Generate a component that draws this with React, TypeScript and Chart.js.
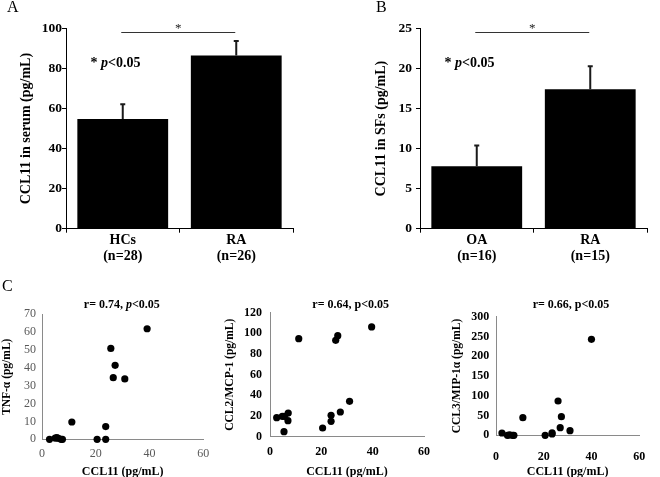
import React, { useEffect, useRef } from "react";
import { Chart, registerables } from "chart.js";

Chart.register(...registerables);

const SERIF = "'Liberation Serif', 'Times New Roman', Times, serif";

// ---------- Panel A: CCL11 in serum ----------
const groupsA = [["HCs", "(n=28)"], ["RA", "(n=26)"]];
const meansA = [54.8, 86.5];
const semA = [7.4, 7.3];
const yMaxA = 100;
const yStepA = 20;

// ---------- Panel B: CCL11 in synovial fluid ----------
const groupsB = [["OA", "(n=16)"], ["RA", "(n=15)"]];
const meansB = [7.8, 17.4];
const semB = [2.6, 2.9];
const yMaxB = 25;
const yStepB = 5;

// ---------- Panel C: correlations with CCL11 ----------
const tnfX = [2.8, 4.9, 5.5, 6.1, 7.1, 7.6, 11.1, 20.5, 23.7, 23.7, 25.6, 26.5, 27.2, 30.8, 39.1];
const tnfY = [0, 0.7, 1.0, 0.5, 0, 0, 9.7, 0, 7.1, 0, 50.9, 34.5, 41.4, 33.8, 61.9];

const mcpX = [2.6, 4.8, 5.6, 5.45, 7.1, 7.0, 11.2, 20.5, 23.8, 23.8, 25.6, 26.4, 27.4, 31.0, 39.6];
const mcpY = [18.4, 19.7, 19.7, 4.9, 22.9, 15.5, 94.9, 8.4, 20.7, 14.9, 93.3, 97.8, 23.9, 34.2, 106.2];

const mipX = [2.5, 4.8, 5.7, 7.0, 7.5, 11.25, 20.6, 23.5, 23.5, 26.0, 26.9, 27.4, 31.0, 40.0];
const mipY = [5.8, 0, 1, 0, 0, 44.6, 0, 3.3, 6.0, 86.8, 19.3, 47.1, 11.7, 242.8];

const xMaxC = 60;
const xStepC = 20;

type Seg = { t: string; i?: boolean };

function drawRich(ctx: CanvasRenderingContext2D, segs: Seg[], x: number, y: number, size: number, align: "left" | "center") {
  const fonts = segs.map((s) => `${s.i ? "italic " : ""}bold ${size}px ${SERIF}`);
  const ws = segs.map((s, k) => {
    ctx.font = fonts[k];
    return ctx.measureText(s.t).width;
  });
  const total = ws.reduce((a, b) => a + b, 0);
  let cx = align === "center" ? x - total / 2 : x;
  ctx.save();
  ctx.textAlign = "left";
  ctx.textBaseline = "alphabetic";
  ctx.fillStyle = "#000";
  segs.forEach((s, k) => {
    ctx.font = fonts[k];
    ctx.fillText(s.t, cx, y);
    cx += ws[k];
  });
  ctx.restore();
}

const errorBars = {
  id: "errorBars",
  afterDatasetsDraw(chart: any, _a: any, opts: any) {
    const { ctx } = chart;
    const y = chart.scales.y;
    const meta = chart.getDatasetMeta(0);
    const vals = chart.data.datasets[0].data as number[];
    ctx.save();
    ctx.strokeStyle = "#1a1a1a";
    ctx.lineWidth = 2;
    (opts.errors as number[]).forEach((e, i) => {
      const x = meta.data[i].x;
      const y0 = y.getPixelForValue(vals[i]);
      const y1 = y.getPixelForValue(vals[i] + e);
      ctx.beginPath();
      ctx.moveTo(x, y0);
      ctx.lineTo(x, y1);
      ctx.moveTo(x - 2.5, y1);
      ctx.lineTo(x + 2.5, y1);
      ctx.stroke();
    });
    ctx.restore();
  },
};

const sigBar = {
  id: "sigBar",
  afterDatasetsDraw(chart: any, _a: any, opts: any) {
    const { ctx, chartArea } = chart;
    const xs = chart.scales.x;
    const ys = chart.scales.y;
    const x0 = xs.getPixelForValue(0) - 1.5;
    const x1 = xs.getPixelForValue(1) - 1;
    const ly = Math.round(ys.getPixelForValue(opts.level)) + 0.5;
    ctx.save();
    ctx.strokeStyle = "#333";
    ctx.lineWidth = 1;
    ctx.beginPath();
    ctx.moveTo(x0, ly);
    ctx.lineTo(x1, ly);
    ctx.stroke();
    ctx.fillStyle = "#222";
    ctx.font = `13px ${SERIF}`;
    ctx.textAlign = "center";
    ctx.textBaseline = "alphabetic";
    ctx.fillText("*", (x0 + x1) / 2, ly - 0.5);
    ctx.restore();
    drawRich(ctx, opts.note, chartArea.left + 24.5, chartArea.top + 38.2, 14, "left");
  },
};

const rTitle = {
  id: "rTitle",
  afterDraw(chart: any, _a: any, opts: any) {
    const { ctx, chartArea } = chart;
    drawRich(ctx, opts.segs, (chartArea.left + chartArea.right) / 2 + opts.dx, opts.baseline, 12, "center");
  },
};

const noteSegs: Seg[] = [{ t: "* " }, { t: "p", i: true }, { t: "<0.05" }];

function barConfig(p: {
  labels: string[][];
  means: number[];
  errs: number[];
  max: number;
  step: number;
  yTitle: string;
  padRight: number;
  axisW: number;
  titlePad: number;
  tickPad: number;
  level: number;
}): any {
  const tickFont = { family: SERIF, size: 13.5, weight: "bold" as const };
  return {
    type: "bar",
    data: {
      labels: p.labels,
      datasets: [
        {
          data: p.means,
          backgroundColor: "#000",
          borderWidth: 0,
          barPercentage: 0.8,
          categoryPercentage: 1,
        },
      ],
    },
    options: {
      responsive: false,
      animation: false,
      devicePixelRatio: 1,
      events: [],
      layout: { padding: { left: 0, right: p.padRight, top: 28.5, bottom: 0 } },
      plugins: {
        legend: { display: false },
        tooltip: { enabled: false },
        errorBars: { errors: p.errs },
        sigBar: { level: p.level, note: noteSegs },
      },
      scales: {
        x: {
          grid: { display: true, drawOnChartArea: false, drawTicks: true, tickLength: 4, color: "#000", offset: true },
          border: { display: true, color: "#000", width: 1 },
          ticks: {
            color: "#000",
            font: { family: SERIF, size: 14, weight: "bold", lineHeight: 16 / 14 },
            padding: 0,
            maxRotation: 0,
            autoSkip: false,
          },
          afterFit: (s: any) => {
            s.height = 280 - 228.7;
          },
        },
        y: {
          min: 0,
          max: p.max,
          ticks: { stepSize: p.step, color: "#000", font: tickFont, padding: p.tickPad },
          grid: { display: true, drawOnChartArea: false, drawTicks: true, tickLength: 4, color: "#000" },
          border: { display: true, color: "#000", width: 1 },
          title: {
            display: true,
            text: p.yTitle,
            color: "#000",
            font: { family: SERIF, size: 14, weight: "bold" },
            padding: { top: p.titlePad, bottom: 0 },
          },
          afterFit: (s: any) => {
            s.width = p.axisW;
          },
        },
      },
    },
    plugins: [errorBars, sigBar],
  };
}

function scatterConfig(p: {
  xs: number[];
  ys: number[];
  yMax: number;
  yStep: number;
  yTitle: string;
  bold: boolean;
  padTop: number;
  padRight: number;
  yW: number;
  xH: number;
  yLabelPad: number;
  xLabelPad: number;
  yTitlePad: number;
  xTitlePad: number;
  segs: Seg[];
  dx: number;
}): any {
  const tickFont = { family: SERIF, size: 12, weight: p.bold ? ("bold" as const) : ("normal" as const) };
  const tickColor = p.bold ? "#000" : "#595959";
  const axisColor = "#8a8a8a";
  return {
    type: "scatter",
    data: {
      datasets: [
        {
          data: p.xs.map((x, i) => ({ x, y: p.ys[i] })),
          backgroundColor: "#000",
          borderColor: "#000",
          borderWidth: 0,
          pointRadius: 3.6,
          clip: false,
        },
      ],
    },
    options: {
      responsive: false,
      animation: false,
      devicePixelRatio: 1,
      events: [],
      layout: { padding: { left: 0, right: p.padRight, top: p.padTop, bottom: 0 } },
      plugins: {
        legend: { display: false },
        tooltip: { enabled: false },
        rTitle: { segs: p.segs, dx: p.dx, baseline: 27.5 },
      },
      scales: {
        x: {
          type: "linear",
          min: 0,
          max: xMaxC,
          ticks: { stepSize: xStepC, color: tickColor, font: tickFont, padding: p.xLabelPad },
          grid: { display: false, drawTicks: false },
          border: { display: true, color: axisColor, width: 1 },
          title: {
            display: true,
            text: "CCL11 (pg/mL)",
            color: "#000",
            font: { family: SERIF, size: 12, weight: "bold" },
            padding: { top: 0, bottom: p.xTitlePad },
          },
          afterFit: (s: any) => {
            s.height = p.xH;
          },
        },
        y: {
          type: "linear",
          min: 0,
          max: p.yMax,
          ticks: { stepSize: p.yStep, color: tickColor, font: tickFont, padding: p.yLabelPad },
          grid: { display: false, drawTicks: false },
          border: { display: true, color: axisColor, width: 1 },
          title: {
            display: true,
            text: p.yTitle,
            color: "#000",
            font: { family: SERIF, size: 11.5, weight: "bold" },
            padding: { top: p.yTitlePad, bottom: 0 },
          },
          afterFit: (s: any) => {
            s.width = p.yW;
          },
        },
      },
    },
    plugins: [rTitle],
  };
}

function ChartBox(props: { left: number; top: number; width: number; height: number; make: () => any }) {
  const ref = useRef<HTMLCanvasElement>(null);
  useEffect(() => {
    const chart = new Chart(ref.current as HTMLCanvasElement, props.make());
    return () => chart.destroy();
  }, []);
  return (
    <canvas
      ref={ref}
      width={props.width}
      height={props.height}
      style={{ position: "absolute", left: props.left, top: props.top, width: props.width, height: props.height }}
    />
  );
}

const letterStyle: React.CSSProperties = {
  position: "absolute",
  fontFamily: SERIF,
  fontSize: 16,
  lineHeight: "16px",
  color: "#000",
};

export default function App() {
  return (
    <div
      style={{
        position: "absolute",
        left: 0,
        top: 0,
        width: 660,
        height: 477,
        overflow: "hidden",
        background: "#fff",
      }}
    >
      <ChartBox
        left={0}
        top={0}
        width={330}
        height={280}
        make={() =>
          barConfig({
            labels: groupsA,
            means: meansA,
            errs: semA,
            max: yMaxA,
            step: yStepA,
            yTitle: "CCL11 in serum (pg/mL)",
            padRight: 37,
            axisW: 66,
            titlePad: 17.6,
            tickPad: 0,
            level: 98.5,
          })
        }
      />
      <ChartBox
        left={330}
        top={0}
        width={330}
        height={280}
        make={() =>
          barConfig({
            labels: groupsB,
            means: meansB,
            errs: semB,
            max: yMaxB,
            step: yStepB,
            yTitle: "CCL11 in SFs (pg/mL)",
            padRight: 13,
            axisW: 90,
            titlePad: 43.3,
            tickPad: 4,
            level: 24.6,
          })
        }
      />
      <ChartBox
        left={0}
        top={280}
        width={220}
        height={200}
        make={() =>
          scatterConfig({
            xs: tnfX,
            ys: tnfY,
            yMax: 70,
            yStep: 10,
            yTitle: "TNF-α (pg/mL)",
            bold: false,
            padTop: 34.3,
            padRight: 16.7,
            yW: 42,
            xH: 40.7,
            yLabelPad: 6,
            xLabelPad: 7.5,
            yTitlePad: 0,
            xTitlePad: 1.1,
            segs: [{ t: "r= 0.74, " }, { t: "p", i: true }, { t: "<0.05" }],
            dx: -0.8,
          })
        }
      />
      <ChartBox
        left={220}
        top={280}
        width={220}
        height={200}
        make={() =>
          scatterConfig({
            xs: mcpX,
            ys: mcpY,
            yMax: 120,
            yStep: 20,
            yTitle: "CCL2/MCP-1 (pg/mL)",
            bold: true,
            padTop: 32.7,
            padRight: 16,
            yW: 50,
            xH: 43.3,
            yLabelPad: 8,
            xLabelPad: 8.4,
            yTitlePad: 3.1,
            xTitlePad: 1.1,
            segs: [{ t: "r= 0.64, p<0.05" }],
            dx: 3.7,
          })
        }
      />
      <ChartBox
        left={440}
        top={280}
        width={220}
        height={200}
        make={() =>
          scatterConfig({
            xs: mipX,
            ys: mipY,
            yMax: 300,
            yStep: 50,
            yTitle: "CCL3/MIP-1α (pg/mL)",
            bold: true,
            padTop: 36.7,
            padRight: 9.3,
            yW: 56,
            xH: 44.7,
            yLabelPad: 6.7,
            xLabelPad: 14.8,
            yTitlePad: 9.8,
            xTitlePad: 0.5,
            segs: [{ t: "r= 0.66, p<0.05" }],
            dx: 3.4,
          })
        }
      />
      <div style={{ ...letterStyle, left: 7, top: -1 }}>A</div>
      <div style={{ ...letterStyle, left: 376, top: -1 }}>B</div>
      <div style={{ ...letterStyle, left: 2, top: 278 }}>C</div>
    </div>
  );
}
